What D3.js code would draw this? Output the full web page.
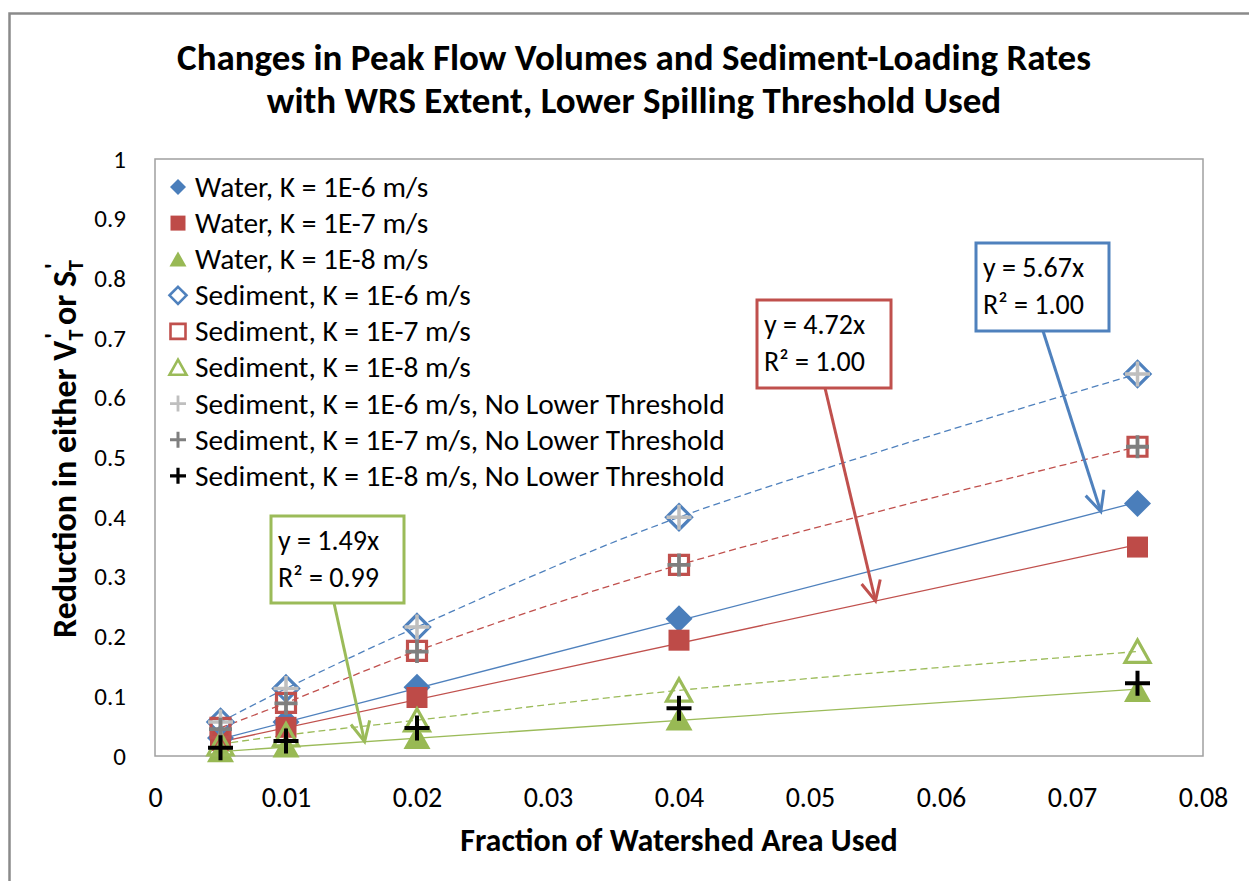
<!DOCTYPE html>
<html><head><meta charset="utf-8">
<script src="https://d3js.org/d3.v7.min.js"></script>
<style>
html,body{margin:0;padding:0;background:#fff;}
svg{display:block;}
</style></head>
<body>
<svg id="chart" width="1249" height="881"></svg>
<script>
// ---------- data ----------
const xValues = [0.005, 0.01, 0.02, 0.04, 0.075];
const waterK6 = [0.030, 0.057, 0.115, 0.230, 0.423];
const waterK7 = [0.026, 0.048, 0.098, 0.194, 0.350];
const waterK8 = [0.009, 0.017, 0.031, 0.062, 0.110];
const sedK6 = [0.057, 0.113, 0.216, 0.400, 0.640];
const sedK7 = [0.047, 0.089, 0.176, 0.320, 0.518];
const sedK8 = [0.020, 0.035, 0.060, 0.110, 0.175];
const sedNoLowK6 = [0.057, 0.113, 0.216, 0.400, 0.640];
const sedNoLowK7 = [0.045, 0.088, 0.175, 0.320, 0.518];
const sedNoLowK8 = [0.014, 0.025, 0.047, 0.080, 0.122];
const seriesNames = [
  "Water, K = 1E-6 m/s", "Water, K = 1E-7 m/s", "Water, K = 1E-8 m/s",
  "Sediment, K = 1E-6 m/s", "Sediment, K = 1E-7 m/s", "Sediment, K = 1E-8 m/s",
  "Sediment, K = 1E-6 m/s, No Lower Threshold", "Sediment, K = 1E-7 m/s, No Lower Threshold",
  "Sediment, K = 1E-8 m/s, No Lower Threshold"
];
const xTickValues = [0, 0.01, 0.02, 0.03, 0.04, 0.05, 0.06, 0.07, 0.08];
const xTickLabels = ["0", "0.01", "0.02", "0.03", "0.04", "0.05", "0.06", "0.07", "0.08"];
const yTickValues = [0, 0.1, 0.2, 0.3, 0.4, 0.5, 0.6, 0.7, 0.8, 0.9, 1];
const yTickLabels = ["0", "0.1", "0.2", "0.3", "0.4", "0.5", "0.6", "0.7", "0.8", "0.9", "1"];
const trendEquations = ["y = 5.67x", "y = 4.72x", "y = 1.49x"];
const trendR2 = ["R² = 1.00", "R² = 1.00", "R² = 0.99"];
const titleLines = ["Changes in Peak Flow Volumes and Sediment-Loading Rates", "with WRS Extent, Lower Spilling Threshold Used"];
const xAxisTitle = "Fraction of Watershed Area Used";

// ---------- setup ----------
const FONT = "Carlito, Calibri, Lato, 'Open Sans', sans-serif";
const svg = d3.select("#chart");
const x = d3.scaleLinear().domain([0, 0.08]).range([155, 1203]);
const y = d3.scaleLinear().domain([0, 1]).range([756, 159]);

const BLUE = "#4F81BD", RED = "#C0504D", GREEN = "#9BBB59";

// outer chart border (only top/left visible)
svg.append("rect").attr("x", 9.5).attr("y", 13.5).attr("width", 1400).attr("height", 1000)
  .attr("fill", "#fff").attr("stroke", "#8a8a8a").attr("stroke-width", 2.5);

// plot frame
svg.append("rect").attr("x", x(0)).attr("y", y(1)).attr("width", x(0.08) - x(0)).attr("height", y(0) - y(1))
  .attr("fill", "none").attr("stroke", "#a0a0a0").attr("stroke-width", 1.5);

// title
const title = svg.append("text").attr("text-anchor", "middle").attr("font-family", FONT)
  .attr("font-weight", "bold").attr("font-size", 37).attr("fill", "#000");
titleLines.forEach((t, i) => title.append("tspan").attr("x", 634).attr("y", 70 + i * 43).text(t));

// axes
const yAxis = d3.axisLeft(y).tickValues(yTickValues).tickFormat((d, i) => yTickLabels[i]).tickSize(0).tickPadding(29);
const gy = svg.append("g").attr("transform", `translate(${x(0)},0)`).call(yAxis);
const xAxis = d3.axisBottom(x).tickValues(xTickValues).tickFormat((d, i) => xTickLabels[i]).tickSize(0).tickPadding(31);
const gx = svg.append("g").attr("transform", `translate(0,${y(0)})`).call(xAxis);
[gx, gy].forEach(g => g.select(".domain").remove());
gy.selectAll("text").attr("font-family", FONT).attr("font-size", 25).attr("fill", "#000");
gx.selectAll("text").attr("font-family", FONT).attr("font-size", 28).attr("fill", "#000");

// axis titles
svg.append("text").attr("x", 679).attr("y", 851).attr("text-anchor", "middle")
  .attr("font-family", FONT).attr("font-weight", "bold").attr("font-size", 32).text(xAxisTitle);

const yt = svg.append("text").attr("transform", "translate(76,449) rotate(-90)").attr("text-anchor", "middle")
  .attr("font-family", FONT).attr("font-weight", "bold").attr("font-size", 34);
yt.append("tspan").text("Reduction in either V");
yt.append("tspan").attr("font-size", 22).attr("dy", 7).text("T");
yt.append("tspan").attr("font-size", 25).attr("dx", -9).attr("dy", -21).text("'");
yt.append("tspan").attr("dy", 14).text(" or S");
yt.append("tspan").attr("font-size", 22).attr("dy", 7).text("T");
yt.append("tspan").attr("font-size", 25).attr("dx", -9).attr("dy", -21).text("'");

// ---------- marker shapes ----------
function shapePath(type, s) {
  const r = s / 2;
  if (type === "diamond") return `M0,${-r}L${r},0L0,${r}L${-r},0Z`;
  if (type === "square") return `M${-r},${-r}H${r}V${r}H${-r}Z`;
  if (type === "triangle") return `M0,${-r * 0.92}L${r},${r * 0.86}L${-r},${r * 0.86}Z`;
  if (type === "plus") return `M${-r},0H${r}M0,${-r}V${r}`;
}

const series = [
  { name: seriesNames[0], values: waterK6, shape: "diamond", fill: "#4A7EBB", stroke: "none", sw: 0, size: 27, ls: 16 },
  { name: seriesNames[1], values: waterK7, shape: "square", fill: "#BE4B48", stroke: "none", sw: 0, size: 21, ls: 15 },
  { name: seriesNames[2], values: waterK8, shape: "triangle", fill: "#98B954", stroke: "none", sw: 0, size: 27, ls: 17 },
  { name: seriesNames[3], values: sedK6, shape: "diamond", fill: "none", stroke: BLUE, sw: 3.2, size: 25, ls: 17, lsw: 2.6, line: BLUE },
  { name: seriesNames[4], values: sedK7, shape: "square", fill: "none", stroke: RED, sw: 3.2, size: 19, ls: 15, lsw: 2.6, line: RED },
  { name: seriesNames[5], values: sedK8, shape: "triangle", fill: "none", stroke: GREEN, sw: 3.2, size: 25, ls: 17, lsw: 2.6, line: GREEN },
  { name: seriesNames[6], values: sedNoLowK6, shape: "plus", fill: "none", stroke: "#BFBFBF", sw: 3.5, size: 25, ls: 16, lsw: 2.8 },
  { name: seriesNames[7], values: sedNoLowK7, shape: "plus", fill: "none", stroke: "#7F7F7F", sw: 3.8, size: 23, ls: 16, lsw: 3 },
  { name: seriesNames[8], values: sedNoLowK8, shape: "plus", fill: "none", stroke: "#000", sw: 4, size: 25, ls: 16, lsw: 3.2 }
];

// ---------- trendlines (through origin, from water series) ----------
const trendColors = [BLUE, RED, GREEN];
const slopes = [waterK6, waterK7, waterK8].map(v => d3.sum(v, (d, i) => d * xValues[i]) / d3.sum(xValues, d => d * d));
const xMin = d3.min(xValues), xMax = d3.max(xValues);
slopes.forEach((m, i) => {
  svg.append("line").attr("x1", x(xMin)).attr("y1", y(m * xMin)).attr("x2", x(xMax)).attr("y2", y(m * xMax))
    .attr("stroke", trendColors[i]).attr("stroke-width", 1.3);
});

// smoothed dashed sediment lines
const lineGen = d3.line().x((d, i) => x(xValues[i])).y(d => y(d)).curve(d3.curveCatmullRom.alpha(0.5));
series.filter(s => s.line).forEach(s => {
  svg.append("path").attr("d", lineGen(s.values)).attr("fill", "none").attr("stroke", s.line)
    .attr("stroke-width", 1.3).attr("stroke-dasharray", "7,4");
});

// markers
series.forEach(s => {
  svg.append("g").selectAll("path").data(s.values).join("path")
    .attr("transform", (d, i) => `translate(${x(xValues[i])},${y(d)})`)
    .attr("d", shapePath(s.shape, s.size))
    .attr("fill", s.fill).attr("stroke", s.stroke).attr("stroke-width", s.sw);
});

// ---------- legend ----------
const legend = svg.append("g");
series.forEach((s, i) => {
  const cy = 187 + i * 36.1;
  legend.append("path").attr("transform", `translate(178,${cy})`)
    .attr("d", shapePath(s.shape, s.ls))
    .attr("fill", s.fill).attr("stroke", s.stroke).attr("stroke-width", s.lsw || 0);
  legend.append("text").attr("x", 195).attr("y", cy).attr("dy", "0.34em")
    .attr("font-family", FONT).attr("font-size", 29.4).attr("fill", "#000").text(s.name);
});

// ---------- trendline annotations ----------
const boxes = [
  { x0: 976, y0: 243, w: 133, h: 88, tipX: 0.0722, ax: 1043, color: BLUE },
  { x0: 757, y0: 300, w: 134, h: 88, tipX: 0.0550, ax: 825, color: RED },
  { x0: 271, y0: 516, w: 133, h: 87, tipX: 0.0160, ax: 334, color: GREEN }
];
boxes.forEach((b, i) => {
  const tx = x(b.tipX), ty = y(slopes[i] * b.tipX);
  const sx = b.ax, sy = b.y0 + b.h;
  svg.append("line").attr("x1", sx).attr("y1", sy).attr("x2", tx).attr("y2", ty)
    .attr("stroke", b.color).attr("stroke-width", 3);
  const ang = Math.atan2(ty - sy, tx - sx);
  const L = 22, a = 0.45;
  const p1 = [tx - L * Math.cos(ang - a), ty - L * Math.sin(ang - a)];
  const p2 = [tx - L * Math.cos(ang + a), ty - L * Math.sin(ang + a)];
  svg.append("path").attr("d", `M${p1}L${tx},${ty}L${p2}`).attr("fill", "none")
    .attr("stroke", b.color).attr("stroke-width", 3).attr("stroke-linejoin", "miter");
  svg.append("rect").attr("x", b.x0).attr("y", b.y0).attr("width", b.w).attr("height", b.h)
    .attr("fill", "#fff").attr("stroke", b.color).attr("stroke-width", 3);
  const t = svg.append("text").attr("font-family", FONT).attr("font-size", 28).attr("fill", "#000");
  t.append("tspan").attr("x", b.x0 + 7).attr("y", b.y0 + 34).text(trendEquations[i]);
  t.append("tspan").attr("x", b.x0 + 7).attr("y", b.y0 + 71).text(trendR2[i]);
});
</script>
</body></html>
